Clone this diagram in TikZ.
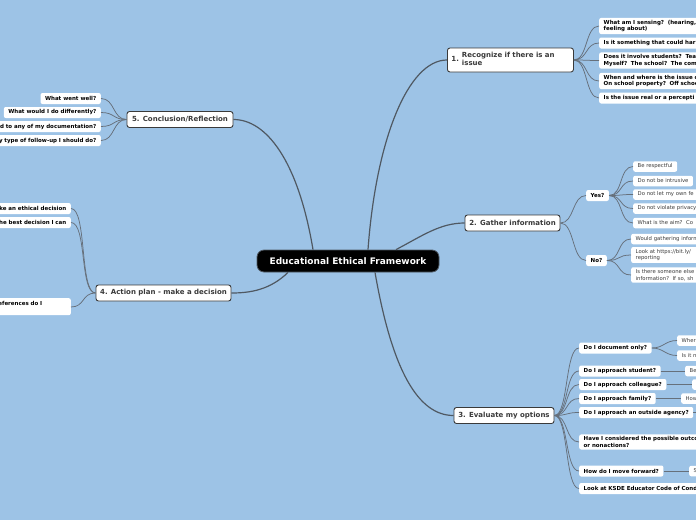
\documentclass[tikz,border=0pt]{standalone}
\usepackage{fontspec}
\setmainfont{DejaVu Sans}
\usetikzlibrary{calc}
\definecolor{bg}{HTML}{9DC3E6}
\definecolor{ln}{HTML}{4F5862}
\definecolor{lnl}{HTML}{66707B}
\definecolor{tx}{HTML}{3A3A3A}
\begin{document}
\begin{tikzpicture}[x=1pt,y=-1pt,
  central/.style={fill=black, draw=ln, line width=0.8pt, rounded corners=7pt, text=white,
    font=\fontsize{9}{11}\selectfont\bfseries, minimum width=182pt, minimum height=22pt, inner sep=0pt},
  topic/.style={fill=white, draw=tx, line width=0.9pt, rounded corners=2.5pt, text=tx,
    font=\fontsize{7}{8.5}\selectfont\bfseries, inner xsep=4pt, inner ysep=2pt, minimum height=16pt},
  sub/.style={fill=white, rounded corners=2pt, text=black,
    font=\fontsize{5.5}{6.8}\selectfont\bfseries, inner xsep=4.5pt, inner ysep=2pt,
    minimum height=11pt, align=left},
  leaf/.style={fill=white, rounded corners=2pt, text=tx,
    font=\fontsize{5.3}{6.8}\selectfont, inner xsep=4.5pt, inner ysep=2pt,
    minimum height=10.5pt, align=left},
  rclip/.style={anchor=west, text width=120pt, align=left},
  lclip/.style={anchor=east, text width=120pt, align=right},
  conn/.style={draw=lnl, line width=0.75pt},
  mconn/.style={draw=ln, line width=1.2pt}]
\useasboundingbox (0,0) rectangle (696,520);
\clip (0,0) rectangle (696,520);
\fill[bg] (0,0) rectangle (696,520);

% central
\node[central] (c) at (348,261) {Educational Ethical Framework};

% main topics
\node[topic, anchor=west, text width=118pt, align=left, minimum height=24pt] (t1) at (447,60)
  {\begin{tabular}{@{}l@{\hspace{3pt}}l@{}}1.&\begin{tabular}[c]{@{}l@{}}Recognize if there is an\\issue\end{tabular}\end{tabular}};
\node[topic, minimum width=95pt] (t2) at (512.5,223) {2. Gather information};
\node[topic, minimum width=100pt] (t3) at (504,415.5) {3. Evaluate my options};
\node[topic, minimum width=135pt] (t4) at (163.5,293) {4. Action plan - make a decision};
\node[topic, minimum width=106pt] (t5) at (180,119.5) {5. Conclusion/Reflection};

% main connectors
\draw[mconn] ($(c.north)+(20,0)$) .. controls (376,140) and (408,60) .. (t1.west);
\draw[mconn] ($(c.north)+(48,0)$) .. controls (422,236) and (440,223) .. (t2.west);
\draw[mconn] ($(c.south)+(27,0)$) .. controls (392,370) and (418,415.5) .. (t3.west);
\draw[mconn] ($(c.south)+(-60,0)$) .. controls (270,290) and (250,293) .. (t4.east);
\draw[mconn] ($(c.north)+(-35,0)$) .. controls (298,160) and (266,119.5) .. (t5.east);

% topic 1 children
\node[sub, rclip] (a1) at (599,26) {What am I sensing?\ \ (hearing,\\feeling about)};
\node[sub, rclip] (a2) at (599,43) {Is it something that could har};
\node[sub, rclip] (a3) at (599,60.5) {Does it involve students?\ \ Tea\\Myself?\ \ The school?\ \ The com};
\node[sub, rclip] (a4) at (599,81) {When and where is the issue o\\On school property?\ \ Off schoo};
\node[sub, rclip] (a5) at (599,98) {Is the issue real or a percepti};
\foreach \n in {a1,a2,a3,a4,a5}
  \draw[conn] (t1.east) .. controls +(14,0) and +(-14,0) .. (\n.west);

% topic 2 children
\node[sub, anchor=west] (yes) at (586,195.5) {Yes?};
\node[sub, anchor=west] (no) at (586,260.5) {No?};
\draw[conn] (t2.east) .. controls +(14,0) and +(-14,0) .. (yes.west);
\draw[conn] (t2.east) .. controls +(14,0) and +(-14,0) .. (no.west);
\node[leaf, anchor=west] (y1) at (633,166.5) {Be respectful};
\node[leaf, anchor=west] (y2) at (633,181) {Do not be intrusive};
\node[leaf, rclip] (y3) at (633,194.5) {Do not let my own fe};
\node[leaf, rclip] (y4) at (633,208.5) {Do not violate privacy};
\node[leaf, rclip] (y5) at (633,223) {What is the aim?\ \ Co};
\foreach \n in {y1,y2,y3,y4,y5}
  \draw[conn] (yes.east) .. controls +(14,0) and +(-14,0) .. (\n.west);
\node[leaf, rclip] (n1) at (631,239) {Would gathering inform};
\node[leaf, rclip] (n2) at (631,255) {Look at https://bit.ly/\\reporting};
\node[leaf, rclip] (n3) at (631,275) {Is there someone else\\information?\ \ If so, sh};
\foreach \n in {n1,n2,n3}
  \draw[conn] (no.east) .. controls +(14,0) and +(-14,0) .. (\n.west);

% topic 3 children
\node[sub, anchor=west] (d1) at (579,348) {Do I document only?};
\node[sub, anchor=west] (d2) at (579,371) {Do I approach student?};
\node[sub, anchor=west] (d3) at (579,384.5) {Do I approach colleague?};
\node[sub, anchor=west] (d4) at (579,398.5) {Do I approach family?};
\node[sub, anchor=west] (d5) at (579,412.5) {Do I approach an outside agency?};
\node[sub, rclip] (d6) at (579,442) {Have I considered the possible outco\\or nonactions?};
\node[sub, anchor=west] (d7) at (579,471) {How do I move forward?};
\node[sub, rclip] (d8) at (579,488.5) {Look at KSDE Educator Code of Cond};
\foreach \n in {d1,d2,d3,d4,d5,d6,d7,d8}
  \draw[conn] (t3.east) .. controls +(14,0) and +(-14,0) .. (\n.west);

\node[leaf, rclip] (d1a) at (677,340.5) {Wher};
\node[leaf, rclip] (d1b) at (677,355.5) {Is it n};
\node[leaf, rclip] (d2a) at (685,371) {Be};
\node[leaf, rclip] (d3a) at (692,384.5) {};
\node[leaf, rclip] (d4a) at (681,398.5) {How};
\coordinate (d5a) at (700,412.5);
\node[leaf, rclip] (d7a) at (689,471) {S};
\draw[conn] (d1.east) .. controls +(12,0) and +(-12,0) .. (d1a.west);
\draw[conn] (d1.east) .. controls +(12,0) and +(-12,0) .. (d1b.west);
\draw[conn] (d2.east) -- (d2a.west);
\draw[conn] (d3.east) -- (d3a.west);
\draw[conn] (d4.east) -- (d4a.west);
\draw[conn] (d5.east) -- (d5a);
\draw[conn] (d7.east) -- (d7a.west);

% topic 4 children
\node[sub, lclip] (e1) at (71,208.5) {ke an ethical decision};
\node[sub, lclip] (e2) at (71,222.5) {he best decision I can};
\node[sub, lclip, anchor=north east, minimum height=17pt] (e3) at (71,298) {eferences do I\rule{24pt}{0pt}\\\mbox{}};
\foreach \n in {e1,e2}
  \draw[conn] (t4.west) .. controls +(-16,0) and +(16,0) .. (\n.east);
\draw[conn] (t4.west) .. controls +(-14,0) and +(14,0) .. ($(e3.north east)+(0,9)$);

% topic 5 children
\node[sub, anchor=east] (f1) at (101,98.5) {What went well?};
\node[sub, anchor=east] (f2) at (101,112.5) {What would I do differently?};
\node[sub, lclip] (f3) at (101,126.5) {ld to any of my documentation?};
\node[sub, lclip] (f4) at (101,140.5) {y type of follow-up I should do?};
\foreach \n in {f1,f2,f3,f4}
  \draw[conn] (t5.west) .. controls +(-14,0) and +(14,0) .. (\n.east);
\end{tikzpicture}
\end{document}
